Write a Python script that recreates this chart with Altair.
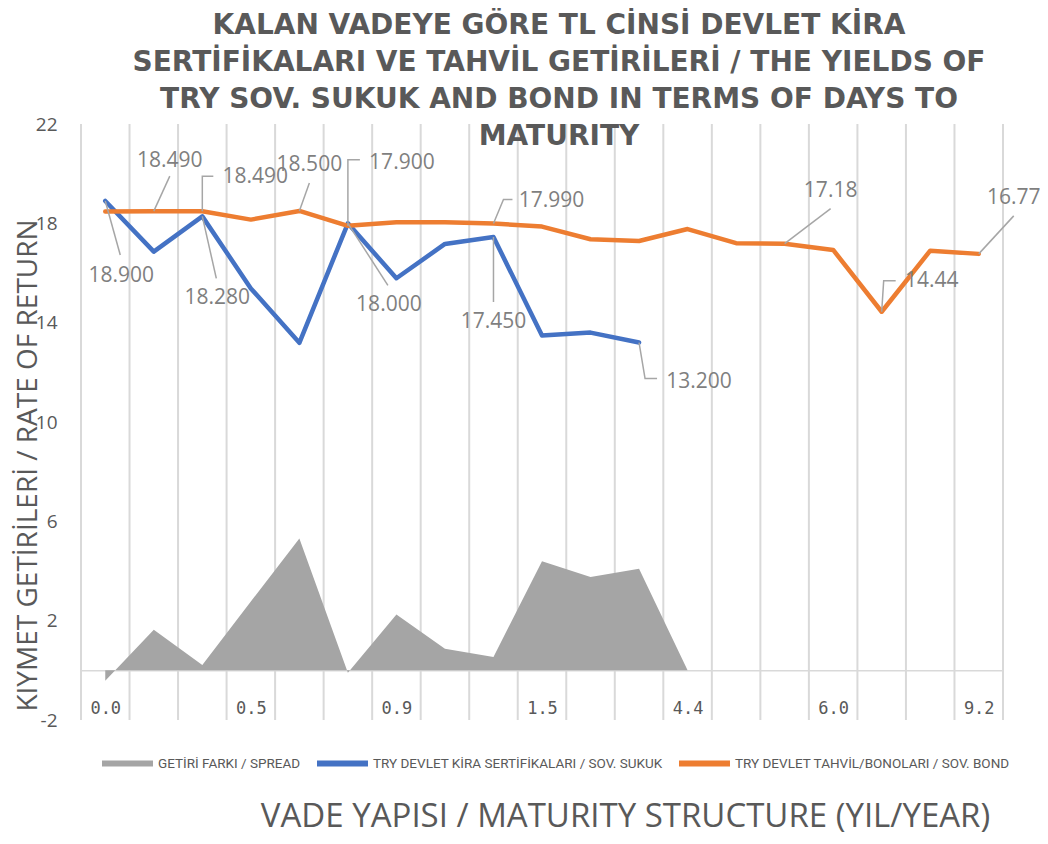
import altair as alt
import pandas as pd
import numpy as np

# ---------------- data ----------------
TITLE = [
    "KALAN VADEYE GÖRE TL CİNSİ DEVLET KİRA",
    "SERTİFİKALARI VE TAHVİL GETİRİLERİ / THE YIELDS OF",
    "TRY SOV. SUKUK AND BOND IN TERMS OF DAYS TO",
    "MATURITY",
]
Y_TITLE = "KIYMET GETİRİLERİ / RATE OF RETURN"
X_TITLE = "VADE YAPISI  / MATURITY STRUCTURE (YIL/YEAR)"

S_SPREAD = "GETİRİ FARKI / SPREAD"
S_SUKUK = "TRY DEVLET KİRA SERTİFİKALARI / SOV. SUKUK"
S_BOND = "TRY DEVLET TAHVİL/BONOLARI / SOV. BOND"

tick_positions = [0, 3, 6, 9, 12, 15, 18]
tick_labels = ["0.0", "0.5", "0.9", "1.5", "4.4", "6.0", "9.2"]

bond = [18.48, 18.49, 18.49, 18.15, 18.50, 17.90, 18.04, 18.04, 17.99, 17.87,
        17.36, 17.29, 17.77, 17.20, 17.18, 16.93, 14.44, 16.90, 16.77]
sukuk = [18.90, 16.86, 18.28, 15.38, 13.19, 18.00, 15.79, 17.17, 17.45, 13.48,
         13.60, 13.20]
spread = [-0.42, 1.63, 0.21, 2.77, 5.31, -0.10, 2.25, 0.87, 0.54, 4.39, 3.76,
          4.09, 0.00]

# labelled points: (series, index, decimals)
labelled = [
    (S_BOND, 1, 3), (S_BOND, 2, 3), (S_BOND, 4, 3), (S_BOND, 5, 3),
    (S_BOND, 8, 3), (S_BOND, 14, 2), (S_BOND, 16, 2), (S_BOND, 18, 2),
    (S_SUKUK, 0, 3), (S_SUKUK, 2, 3), (S_SUKUK, 5, 3), (S_SUKUK, 8, 3),
    (S_SUKUK, 11, 3),
]
# label placement (pixels): text centre offset, leader elbow offset, leader end offset
label_offsets = [
    ((16, -50), None, (16, -35)),
    ((53, -34), (0, -35), (11, -35)),
    ((10, -46), None, (10, -28)),
    ((54, -63), (0, -66), (12, -66)),
    ((58, -23), (10, -24), (19, -24)),
    ((46, -53), None, (46, -35)),
    ((50, -31), (2, -31), (14, -31)),
    ((35, -56), None, (35, -38)),
    ((16, 75), None, (15, 54)),
    ((15, 82), None, (14, 62)),
    ((41, 82), None, (40, 62)),
    ((0, 85), None, (0, 65)),
    ((60, 39), (6, 36), (18, 36)),
]

# ---------------- geometry ----------------
W, H = 922, 596
N = len(bond)
YMIN, YMAX = -2, 22
ux = W / N
uy = H / (YMAX - YMIN)

GREY = "#595959"
series_order = [S_SPREAD, S_SUKUK, S_BOND]
series_colors = ["#a5a5a5", "#4472c4", "#ed7d31"]
values_by_series = {S_SPREAD: spread, S_SUKUK: sukuk, S_BOND: bond}

rows = []
for s in series_order:
    for i, v in enumerate(values_by_series[s]):
        rows.append({"idx": i, "value": v, "series": s})
df = pd.DataFrame(rows)

grid_df = pd.DataFrame({"b": np.arange(N + 1) - 0.5})

text_rows, lead_rows = [], []
for k, ((s, i, dec), (toff, eoff, loff)) in enumerate(zip(labelled, label_offsets)):
    v = values_by_series[s][i]
    text_rows.append({"tx": i + toff[0] / ux, "ty": v - toff[1] / uy,
                      "label": f"{v:.{dec}f}"})
    pts = [(0, 0)] + ([eoff] if eoff else []) + [loff]
    for o, (dx, dy) in enumerate(pts):
        lead_rows.append({"lid": k, "ord": o, "lx": i + dx / ux, "ly": v - dy / uy})
text_df = pd.DataFrame(text_rows)
lead_df = pd.DataFrame(lead_rows)

# ---------------- scales / axes ----------------
xs = alt.Scale(domain=[-0.5, N - 0.5], nice=False, zero=False)
ys = alt.Scale(domain=[YMIN, YMAX], nice=False, zero=False)
cs = alt.Scale(domain=series_order, range=series_colors)

label_expr = " : ".join(
    f"datum.value == {p} ? '{t}'" for p, t in zip(tick_positions, tick_labels)
) + " : ''"

x_axis = alt.Axis(
    values=tick_positions, labelExpr=label_expr, offset=-(0 - YMIN) * uy,
    labelFont="DejaVu Sans Mono", labelFontSize=17, labelColor=GREY,
    labelPadding=30, ticks=False, tickSize=0, domainColor="#d9d9d9",
    domainWidth=1.5, grid=False,
    title=X_TITLE, titleFont="Open Sans", titleFontSize=33,
    titleFontWeight="normal", titleColor=GREY, titleX=544, titleY=156,
    titleAlign="center", titleBaseline="alphabetic",
)
y_axis = alt.Axis(
    values=list(range(YMIN, YMAX + 1, 4)), labelExpr="'' + datum.value",
    labelFont="Open Sans", labelFontSize=19, labelColor=GREY, labelPadding=24,
    ticks=False, tickSize=0, domain=False, grid=False,
    title=Y_TITLE, titleFont="Open Sans", titleFontSize=28,
    titleFontWeight="normal", titleColor=GREY, titleX=-45, titleY=341,
    titleAngle=270, titleAlign="center", titleBaseline="alphabetic",
)
legend = alt.Legend(
    orient="none", legendX=21, legendY=614, direction="horizontal", title=None,
    symbolType="M-1,-0.12H1V0.12H-1Z", symbolSize=2600, symbolStrokeWidth=0,
    labelFont="Roboto", labelFontSize=13.5, labelColor=GREY, labelLimit=0,
    labelOffset=5, columnPadding=16,
)

# ---------------- layers ----------------
grid = alt.Chart(grid_df).mark_rule(color="#d9d9d9", strokeWidth=2).encode(
    x=alt.X("b:Q", scale=xs, axis=x_axis),
    y=alt.value(0), y2=alt.value(H),
)

area = alt.Chart(df).transform_filter(alt.datum.series == S_SPREAD).mark_area(
    opacity=1
).encode(
    x=alt.X("idx:Q", scale=xs, axis=x_axis),
    y=alt.Y("value:Q", scale=ys, axis=y_axis),
    color=alt.Color("series:N", scale=cs, legend=legend),
)


def line_layer(name):
    return alt.Chart(df).transform_filter(alt.datum.series == name).mark_line(
        strokeWidth=4.5, strokeJoin="round", strokeCap="round"
    ).encode(
        x=alt.X("idx:Q", scale=xs, axis=x_axis),
        y=alt.Y("value:Q", scale=ys, axis=y_axis),
        color=alt.Color("series:N", scale=cs, legend=legend),
    )


leaders = alt.Chart(lead_df).mark_line(color="#a6a6a6", strokeWidth=1.5).encode(
    x=alt.X("lx:Q", scale=xs, axis=x_axis),
    y=alt.Y("ly:Q", scale=ys, axis=y_axis),
    detail="lid:N",
    order="ord:Q",
)

texts = alt.Chart(text_df).mark_text(
    font="Open Sans", fontSize=21, color="#7f7f7f", align="center", baseline="middle"
).encode(
    x=alt.X("tx:Q", scale=xs, axis=x_axis),
    y=alt.Y("ty:Q", scale=ys, axis=y_axis),
    text="label:N",
)

chart = alt.layer(
    grid, area, line_layer(S_SUKUK), line_layer(S_BOND), leaders, texts
).properties(
    width=W, height=H,
    autosize=alt.AutoSizeParams(type="none"),
    padding={"left": 73, "top": 116, "right": 37, "bottom": 116},
    title=alt.TitleParams(
        text=TITLE, font="DejaVu Sans", fontSize=28, fontWeight="bold",
        color=GREY, lineHeight=37, anchor="middle", frame="group", dx=17,
        offset=-36,
    ),
).configure_view(
    stroke=None
)

chart.save("out.html", embed_options={"renderer": "svg", "actions": False})
